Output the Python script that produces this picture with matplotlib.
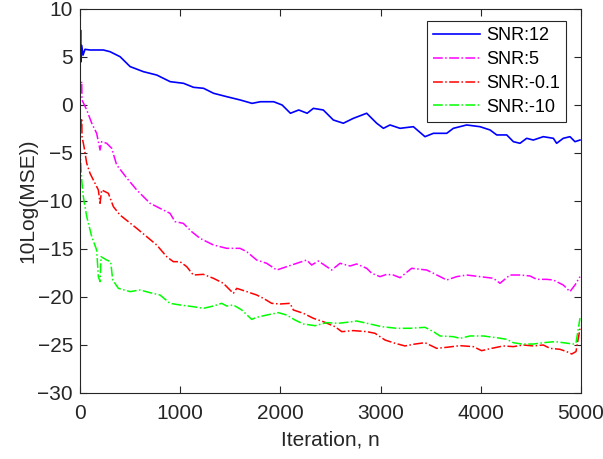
import matplotlib
matplotlib.use('Agg')
import matplotlib.pyplot as plt
import numpy as np

plt.rcParams['font.family'] = ['Liberation Sans', 'DejaVu Sans']

# Values (iteration, 10log(MSE))
n_snr12 = [0, 5, 10, 17, 30, 50, 100, 233, 300, 400, 500, 633, 766, 900, 1033, 1133, 1233, 1333,
           1467, 1600, 1717, 1800, 1933, 2017, 2100, 2183, 2267, 2329, 2428, 2528, 2628, 2728,
           2861, 2961, 3028, 3094, 3194, 3327, 3443, 3527, 3660, 3726, 3859, 3992, 4092, 4159,
           4259, 4325, 4391, 4458, 4524, 4624, 4724, 4757, 4823, 4890, 4940, 4990]
mse_snr12 = [5.0, 7.8, 4.5, 6.2, 5.2, 5.8, 5.73, 5.73, 5.55, 5.03, 4.0, 3.47, 3.12, 2.43, 2.26,
             1.84, 1.74, 1.22, 0.86, 0.52, 0.17, 0.34, 0.34, 0.0, -0.86, -0.52, -0.86, -0.35,
             -0.52, -1.56, -1.9, -1.39, -0.86, -1.9, -2.43, -2.08, -2.43, -2.26, -3.3, -2.95,
             -2.95, -2.43, -2.08, -2.26, -2.6, -3.12, -3.12, -3.82, -3.99, -3.47, -3.65, -3.3,
             -3.47, -3.99, -3.47, -3.3, -3.82, -3.65]

n_snr5 = [0, 17, 20, 67, 117, 166, 200, 216, 266, 316, 366, 466, 566, 699, 798, 898, 948, 1031,
          1115, 1198, 1331, 1464, 1597, 1664, 1763, 1863, 1963, 2063, 2163, 2262, 2312, 2379,
          2462, 2512, 2595, 2695, 2761, 2861, 2911, 2994, 3061, 3127, 3194, 3310, 3460, 3527,
          3660, 3759, 3859, 3992, 4125, 4192, 4291, 4391, 4491, 4558, 4657, 4724, 4823, 4890,
          4940, 4990]
mse_snr5 = [1.0, 2.43, 0.52, -0.52, -1.9, -2.95, -4.69, -3.82, -3.99, -4.51, -6.25, -7.6,
            -8.85, -10.24, -10.76, -11.28, -12.15, -12.33, -13.2, -13.89, -14.58, -14.93, -14.93,
            -15.28, -16.15, -16.49, -17.19, -16.84, -16.49, -16.15, -16.67, -16.25, -16.84,
            -17.19, -16.49, -16.77, -16.56, -17.01, -17.53, -17.88, -17.64, -17.71, -17.99,
            -17.01, -17.19, -17.53, -18.23, -17.88, -17.71, -17.88, -18.05, -18.57, -17.71,
            -17.71, -17.81, -18.16, -18.16, -18.23, -18.75, -19.44, -18.75, -17.88]

n_snr0 = [0, 17, 20, 40, 67, 100, 133, 183, 200, 216, 283, 333, 399, 482, 566, 666, 765, 865,
          931, 998, 1065, 1131, 1231, 1331, 1430, 1530, 1564, 1664, 1763, 1830, 1913, 1996,
          2096, 2129, 2229, 2329, 2428, 2545, 2612, 2728, 2861, 2944, 3044, 3144, 3243, 3343,
          3443, 3560, 3660, 3792, 3925, 4008, 4108, 4225, 4325, 4424, 4524, 4624, 4691, 4790,
          4857, 4907, 4950, 4990]
mse_snr0 = [-2.5, -1.39, -3.3, -4.34, -6.08, -7.12, -7.81, -8.85, -10.24, -8.85, -9.2, -10.59,
            -11.46, -12.15, -12.85, -13.72, -14.58, -15.8, -16.32, -16.32, -16.84, -17.71,
            -17.64, -18.05, -18.57, -19.62, -19.1, -19.44, -19.79, -20.14, -20.66, -20.73,
            -20.66, -21.35, -21.7, -22.22, -22.57, -23.09, -23.61, -23.5, -23.61, -23.78,
            -24.48, -24.82, -25.1, -24.9, -24.76, -25.35, -25.24, -25.07, -25.17, -25.59,
            -25.35, -25.1, -25.17, -25.0, -25.1, -25.0, -25.35, -25.45, -25.69, -25.94, -25.69,
            -23.3]

n_snr10 = [0, 17, 33, 67, 117, 166, 183, 200, 210, 266, 306, 326, 383, 499, 599, 699, 798, 898,
           998, 1131, 1231, 1331, 1414, 1464, 1530, 1614, 1713, 1763, 1863, 1980, 2063, 2146,
           2229, 2346, 2462, 2578, 2695, 2761, 2894, 3011, 3161, 3293, 3443, 3527, 3593, 3726,
           3792, 3892, 4025, 4159, 4259, 4325, 4408, 4524, 4624, 4740, 4823, 4923, 4950, 4990]
mse_snr10 = [-4.34, -7.81, -9.55, -11.63, -13.72, -15.1, -17.88, -18.4, -15.8, -16.15, -16.32,
             -18.23, -19.1, -19.44, -19.27, -19.55, -19.79, -20.66, -20.83, -21.01, -21.18,
             -20.94, -20.66, -20.94, -20.83, -21.35, -22.33, -22.12, -21.88, -21.63, -21.88,
             -22.4, -22.81, -22.99, -22.67, -22.74, -22.6, -22.5, -22.81, -23.09, -23.26,
             -23.26, -23.16, -23.61, -24.06, -24.13, -24.31, -24.06, -24.06, -24.24, -24.41,
             -24.76, -24.9, -24.9, -24.76, -24.65, -24.76, -24.9, -24.8, -22.2]

labels = ['SNR:12', 'SNR:5', 'SNR:-0.1', 'SNR:-10']

fig = plt.figure(figsize=(6.03, 4.59), dpi=100)
ax = fig.add_axes([0.1327, 0.1438, 0.8308, 0.8366])

ax.plot(n_snr12, mse_snr12, color=(0, 0, 1), lw=1.2, ls='-', label=labels[0])
ax.plot(n_snr5, mse_snr5, color=(1, 0, 1), lw=1.1, ls='-.', label=labels[1])
ax.plot(n_snr0, mse_snr0, color=(1, 0, 0), lw=1.1, ls='-.', label=labels[2])
ax.plot(n_snr10, mse_snr10, color=(0, 1, 0), lw=1.1, ls='-.', label=labels[3])

ax.set_xlim(0, 5000)
ax.set_ylim(-30, 10)
ax.set_xticks(np.arange(0, 5001, 1000))
ax.set_yticks(np.arange(-30, 11, 5))
ax.tick_params(direction='in', top=True, right=True, length=5, width=0.8,
               labelsize=15, colors='0.15', labelcolor='0.15')
ax.tick_params(axis='x', pad=8)
ax.tick_params(axis='y', pad=5)
for s in ax.spines.values():
    s.set_color('0.15')
    s.set_linewidth(0.8)

ax.set_xlabel('Iteration, n', fontsize=15, color='0.15', labelpad=5)
ax.set_ylabel('10Log(MSE))', fontsize=15, color='0.15', labelpad=0)

leg = ax.legend(loc='upper right', bbox_to_anchor=(0.97, 0.969), borderaxespad=0,
                fontsize=13, fancybox=False, edgecolor='0.15', framealpha=1,
                handlelength=2.6, handletextpad=0.3, labelspacing=0.38, borderpad=0.35)
leg.get_frame().set_linewidth(0.8)

fig.savefig('out.png', dpi=100)
